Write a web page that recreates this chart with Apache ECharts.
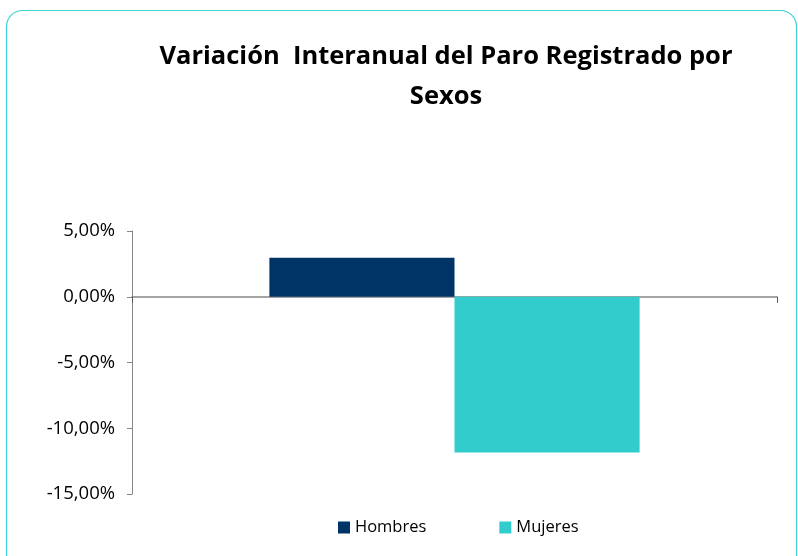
<!DOCTYPE html>
<html><head><meta charset="utf-8">
<script src="https://cdn.jsdelivr.net/npm/echarts@6/dist/echarts.min.js"></script>
<style>html,body{margin:0;padding:0;background:#fff}#c{width:798px;height:556px}</style>
</head><body><div id="c"></div>
<script>
const categories = ['Sexos'];
const seriesNames = ['Hombres', 'Mujeres'];
const hombres = [2.97];
const mujeres = [-11.84];
const yTicks = [-15, -10, -5, 0, 5];
const colors = ['#003366', '#33CCCC'];

const chart = echarts.init(document.getElementById('c'));
const fmt = v => v.toFixed(2).replace('.', ',') + '%';
chart.setOption({
  animation: false,
  graphic: [{
    type: 'rect', shape: {x: 6.5, y: 10.5, width: 790, height: 570, r: 16},
    style: {fill: 'none', stroke: '#3DD3D8', lineWidth: 1.2}, z: -1
  }],
  title: {
    text: 'Variación  Interanual del Paro Registrado por\nSexos',
    left: 441, top: 32, textAlign: 'center',
    textStyle: {fontFamily: 'Open Sans', fontWeight: 'bold', fontSize: 25.5, lineHeight: 40, color: '#000'}
  },
  legend: {
    data: seriesNames, bottom: 15, left: 333, itemWidth: 12, itemHeight: 12, itemGap: 73,
    icon: 'rect',
    textStyle: {fontFamily: 'Open Sans', fontSize: 16.5, color: '#000', padding: [0,0,0,0]}
  },
  grid: {left: 132, right: 21, top: 231, bottom: 62},
  xAxis: {
    type: 'category', data: categories,
    axisLine: {lineStyle: {color: '#868686', width: 1.5}},
    axisTick: {show: true, length: 6, lineStyle: {color: '#555'}},
    axisLabel: {show: false}
  },
  yAxis: {
    type: 'value', min: yTicks[0], max: yTicks[yTicks.length-1], interval: 5,
    splitLine: {show: false},
    axisLine: {show: true, lineStyle: {color: '#868686'}},
    axisTick: {show: true, length: 5, lineStyle: {color: '#868686'}},
    axisLabel: {formatter: fmt, fontFamily: 'Open Sans', fontSize: 18.5, color: '#000', margin: 17}
  },
  series: [
    {name: seriesNames[0], type: 'bar', data: hombres, itemStyle: {color: colors[0]}, barGap: '0%', barCategoryGap: '42.6%'},
    {name: seriesNames[1], type: 'bar', data: mujeres, itemStyle: {color: colors[1]}}
  ]
});
</script></body></html>
